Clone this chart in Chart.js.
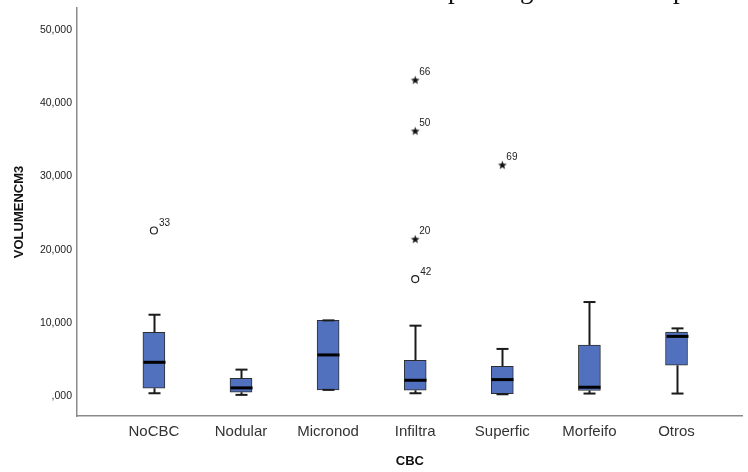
<!DOCTYPE html>
<html>
<head>
<meta charset="utf-8">
<script src="https://cdn.jsdelivr.net/npm/chart.js@4"></script>
<style>
    html, body { margin: 0; padding: 0; background: #fff; }
</style>
</head>
<body>
<canvas id="chart" width="748" height="472"></canvas>
<script>
    const categories = ["NoCBC", "Nodular", "Micronod", "Infiltra", "Superfic", "Morfeifo", "Otros"];
    const whiskerLow = [0.45, 0.23, 0.91, 0.45, 0.31, 0.41, 0.41];
    const q1 = [1.13, 0.59, 0.91, 0.86, 0.41, 0.82, 4.26];
    const median = [4.67, 1.18, 5.67, 2.22, 2.31, 1.27, 8.20];
    const q3 = [8.75, 2.49, 10.38, 4.94, 4.12, 7.03, 8.80];
    const whiskerHigh = [11.15, 3.67, 10.38, 9.66, 6.49, 12.88, 9.29];

    // outliers: index of category (1-based), value, case label
    const circleCat = [1, 4];
    const circleValue = [22.63, 16.01];
    const circleLabel = ["33", "42"];
    const starCat = [4, 4, 4, 5];
    const starValue = [43.13, 36.19, 21.45, 31.56];
    const starLabel = ["66", "50", "20", "69"];

    const yTicks = [0, 10, 20, 30, 40, 50];

    const $ = query => document.querySelector(query);
    const font = "Liberation Sans";
    const fmt = v => v === 0 ? ",000" : v.toFixed(3).replace(".", ",");

    // small filled star used for extreme values
    const starImg = (() => {
        const c = document.createElement("canvas");
        c.width = 11; c.height = 11;
        const g = c.getContext("2d");
        g.fillStyle = "#111";
        g.beginPath();
        for (let k = 0; k < 10; k++) {
            const r = k % 2 ? 1.9 : 4.6;
            const a = -Math.PI / 2 + k * Math.PI / 5;
            g.lineTo(5.5 + r * Math.cos(a), 5.8 + r * Math.sin(a));
        }
        g.closePath();
        g.fill();
        return c;
    })();

    const boxParts = {
        id: "boxParts",
        beforeDraw(chart) {
            // cut-off document text above the chart
            const ctx = chart.ctx;
            ctx.save();
            ctx.fillStyle = "#111";
            ctx.font = '27px "Liberation Serif"';
            ctx.textBaseline = "alphabetic";
            ctx.fillText("p", 448, -2);
            ctx.fillText("g", 520, -2);
            ctx.fillText("p", 673, -2);
            ctx.restore();
        },
        afterDatasetsDraw(chart) {
            const { ctx, scales: { x, y } } = chart;
            const line = (x0, y0, x1, y1) => {
                ctx.beginPath(); ctx.moveTo(x0, y0); ctx.lineTo(x1, y1); ctx.stroke();
            };
            ctx.save();
            categories.forEach((c, i) => {
                const cx = Math.round(x.getPixelForValue(i + 1)) + 0.5;
                const yHi = y.getPixelForValue(whiskerHigh[i]);
                const yLo = y.getPixelForValue(whiskerLow[i]);
                ctx.strokeStyle = "#1a1a1a";
                ctx.lineWidth = 2;
                if (whiskerHigh[i] > q3[i]) line(cx, y.getPixelForValue(q3[i]), cx, yHi);
                if (whiskerLow[i] < q1[i]) line(cx, y.getPixelForValue(q1[i]), cx, yLo);
                line(cx - 6, yHi, cx + 6, yHi);
                line(cx - 6, yLo, cx + 6, yLo);
                ctx.strokeStyle = "#000";
                ctx.lineWidth = 3;
                const ym = y.getPixelForValue(median[i]);
                line(cx - 11, ym, cx + 11, ym);
            });
            ctx.fillStyle = "#222";
            ctx.font = `10px "${font}"`;
            ctx.textBaseline = "alphabetic";
            circleCat.forEach((c, i) => {
                ctx.fillText(circleLabel[i], x.getPixelForValue(c) + 5, y.getPixelForValue(circleValue[i]) - 4);
            });
            starCat.forEach((c, i) => {
                ctx.fillText(starLabel[i], x.getPixelForValue(c) + 4, y.getPixelForValue(starValue[i]) - 5);
            });
            ctx.restore();
        }
    };

    new Chart($("#chart"), {
        type: "bar",
        data: {
            datasets: [{
                data: categories.map((c, i) => ({ x: i + 1, y: [q1[i], q3[i]] })),
                backgroundColor: "#5171bf",
                borderColor: "#2e2e2e",
                borderWidth: 1,
                borderSkipped: false,
                barThickness: 22,
                order: 3
            }, {
                type: "line",
                data: circleCat.map((c, i) => ({ x: c, y: circleValue[i] })),
                showLine: false,
                pointStyle: "circle",
                pointRadius: 3.5,
                pointBorderWidth: 1.2,
                pointBorderColor: "#222",
                pointBackgroundColor: "#fff",
                order: 1
            }, {
                type: "line",
                data: starCat.map((c, i) => ({ x: c, y: starValue[i] })),
                showLine: false,
                pointStyle: starImg,
                order: 1
            }]
        },
        options: {
            responsive: false,
            animation: false,
            devicePixelRatio: 1,
            layout: { padding: { top: 8, right: 0, left: 0, bottom: 0 } },
            plugins: { legend: { display: false }, tooltip: { enabled: false } },
            scales: {
                x: {
                    type: "linear",
                    offset: false,
                    min: 0.117,
                    max: 7.761,
                    afterBuildTicks: s => { s.ticks = categories.map((c, i) => ({ value: i + 1 })); },
                    afterFit: s => { s.height = 56; s.paddingLeft = 0; s.paddingRight = 0; },
                    grid: { display: false, drawTicks: false },
                    border: { display: true, color: "#8a8a8a", width: 1.5 },
                    ticks: {
                        padding: 7,
                        autoSkip: false,
                        maxRotation: 0,
                        color: "#333",
                        font: { family: font, size: 15 },
                        callback: v => categories[v - 1]
                    },
                    title: {
                        display: true,
                        text: "CBC",
                        color: "#111",
                        font: { family: font, size: 13, weight: "bold" },
                        padding: { top: 3, bottom: 3 }
                    }
                },
                y: {
                    min: -2.65,
                    max: 52.95,
                    afterBuildTicks: s => { s.ticks = yTicks.map(v => ({ value: v })); },
                    afterFit: s => { s.width = 77; s.paddingTop = 0; s.paddingBottom = 0; },
                    grid: { display: false, drawTicks: false },
                    border: { display: true, color: "#8a8a8a", width: 1.5 },
                    ticks: {
                        padding: 5,
                        color: "#222",
                        font: { family: font, size: 10.5 },
                        callback: v => fmt(v)
                    },
                    title: {
                        display: true,
                        text: "VOLUMENCM3",
                        color: "#111",
                        font: { family: font, size: 13, weight: "bold" },
                        padding: { top: 12, bottom: 12 }
                    }
                }
            }
        },
        plugins: [boxParts]
    });
</script>
</body>
</html>
